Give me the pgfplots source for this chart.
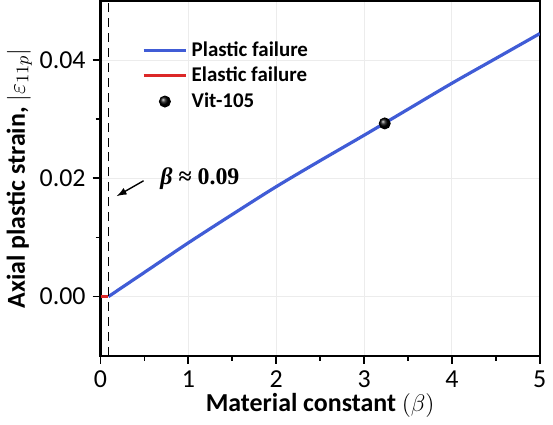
\documentclass[border=0pt]{standalone}
\usepackage{pgfplots}
\pgfplotsset{compat=1.18}
\usepackage{fontspec}
\setmainfont{Carlito}
\newfontfamily\serifann{Liberation Serif}
\definecolor{pblue}{RGB}{64,92,214}
\definecolor{ered}{RGB}{220,40,40}
\pgfplotsset{
  lineleg/.style={legend image code/.code={\draw[##1] (0cm,0cm) -- (0.75cm,0cm);}},
  ballleg/.style={legend image code/.code={\draw[##1] plot coordinates {(0.375cm,0cm)};}},
}
\begin{document}
\begin{tikzpicture}
\begin{axis}[
  scale only axis,
  width=220.5pt, height=178pt,
  xmin=0, xmax=5, ymin=-0.01, ymax=0.05,
  xtick={0,1,2,3,4,5},
  ytick={0,0.02,0.04},
  minor x tick num=1,
  minor y tick num=1,
  tick align=outside,
  tick pos=left,
  axis line style={line width=1.1pt},
  every tick/.style={black, line width=0.9pt},
  major tick length=4pt,
  minor tick length=2.5pt,
  grid=major,
  major grid style={gray!15, line width=0.5pt},
  scaled y ticks=false,
  /pgf/number format/assume math mode=true,
  yticklabel style={/pgf/number format/fixed, /pgf/number format/fixed zerofill, /pgf/number format/precision=2},
  ticklabel style={font=\fontsize{13}{15}\selectfont},
  xlabel={\textbf{Material constant} $(\beta)$},
  ylabel={\textbf{Axial plastic strain,} $\vert\varepsilon_{11p}\vert$},
  label style={font=\fontsize{13}{15}\selectfont},
  xlabel style={yshift=4pt},
  ylabel style={yshift=-3pt},
  legend style={draw=none, fill=none, at={(0.08,0.91)}, anchor=north west,
    font=\fontsize{10.5}{12}\selectfont\bfseries},
  legend cell align=left,
]
\addplot[pblue, line width=1.6pt, smooth, lineleg] coordinates {
(0.09,0) (0.5,0.0041) (1.0,0.0091) (1.5,0.0139) (2.0,0.0186) (2.5,0.0230)
(3.0,0.0273) (3.5,0.0317) (4.0,0.0361) (4.5,0.0403) (5.0,0.0445)};
\addlegendentry{Plastic failure}
\addplot[ered, line width=1.6pt, lineleg] coordinates {(0,0) (0.09,0)};
\addlegendentry{Elastic failure}
\addplot[only marks, mark=ball, mark size=2.8pt, ball color=black, ballleg] coordinates {(3.235,0.0293)};
\addlegendentry{Vit-105}
\addplot[black, line width=0.8pt, dash pattern=on 4.5pt off 3pt, forget plot] coordinates {(0.09,-0.01) (0.09,0.05)};
\coordinate (A1) at (axis cs:0.49,0.0196);
\coordinate (A2) at (axis cs:0.185,0.0170);
\coordinate (T1) at (axis cs:0.6,0.0199);
\end{axis}
\draw[-latex, line width=0.7pt] (A1) -- (A2);
\node[anchor=west, font=\serifann\fontsize{12}{14}\selectfont\bfseries] at (T1) {\textit{β} ≈ 0.09};
\end{tikzpicture}
\end{document}
